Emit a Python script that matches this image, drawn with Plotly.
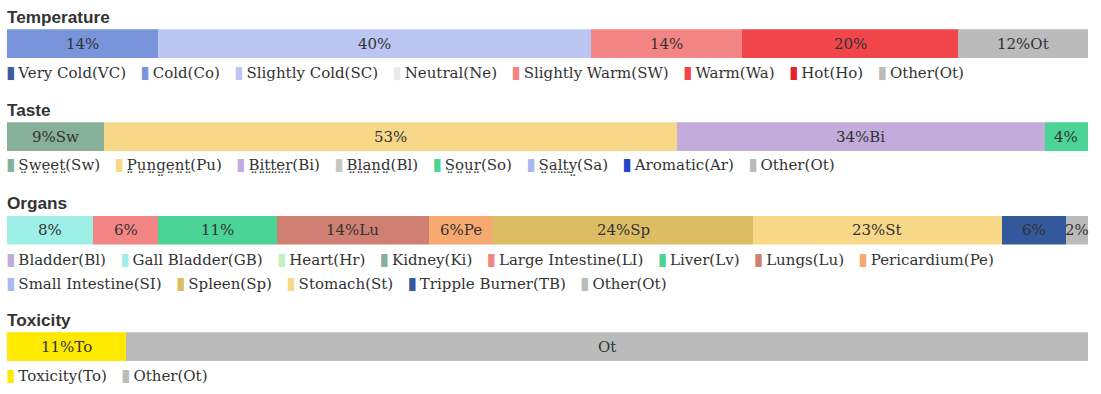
import plotly.graph_objects as go

# ---------------- data ----------------
temp_names = ["Very Cold", "Cold", "Slightly Cold", "Neutral", "Slightly Warm", "Warm", "Hot", "Other"]
temp_abbr = ["VC", "Co", "SC", "Ne", "SW", "Wa", "Ho", "Ot"]
temp_values = [0, 14, 40, 0, 14, 20, 0, 12]
temp_labels = ["", "14%", "40%", "", "14%", "20%", "", "12%Ot"]
temp_colors = ["#3d5aa3", "#7895db", "#bcc6f2", "#ebebeb", "#f38585", "#f0464b", "#e2222c", "#bbbbbb"]

taste_names = ["Sweet", "Pungent", "Bitter", "Bland", "Sour", "Salty", "Aromatic", "Other"]
taste_abbr = ["Sw", "Pu", "Bi", "Bl", "So", "Sa", "Ar", "Ot"]
taste_values = [9, 53, 34, 0, 4, 0, 0, 0]
taste_labels = ["9%Sw", "53%", "34%Bi", "", "4%", "", "", ""]
taste_colors = ["#87b09b", "#f7d888", "#c3acdb", "#c8c8b8", "#4cd396", "#aab8f0", "#2246cc", "#bbbbbb"]
taste_underlined = [True, True, True, True, True, True, False, False]

organ_names = ["Bladder", "Gall Bladder", "Heart", "Kidney", "Large Intestine", "Liver", "Lungs",
               "Pericardium", "Small Intestine", "Spleen", "Stomach", "Tripple Burner", "Other"]
organ_abbr = ["Bl", "GB", "Hr", "Ki", "LI", "Lv", "Lu", "Pe", "SI", "Sp", "St", "TB", "Ot"]
organ_values = [0, 8, 0, 0, 6, 11, 14, 6, 0, 24, 23, 6, 2]
organ_labels = ["", "8%", "", "", "6%", "11%", "14%Lu", "6%Pe", "", "24%Sp", "23%St", "6%", "2%"]
organ_colors = ["#c1abd9", "#9eefe5", "#c6edc2", "#87b09b", "#f38585", "#4cd396", "#d08072",
                "#f7aa70", "#aab8f0", "#dcbd63", "#f7d888", "#33589b", "#bbbbbb"]

tox_names = ["Toxicity", "Other"]
tox_abbr = ["To", "Ot"]
tox_values = [11, 89]
tox_labels = ["11%To", "Ot"]
tox_colors = ["#ffe900", "#bbbbbb"]

sections = [
    ("Temperature", temp_names, temp_abbr, temp_values, temp_labels, temp_colors, None, [8]),
    ("Taste", taste_names, taste_abbr, taste_values, taste_labels, taste_colors, taste_underlined, [8]),
    ("Organs", organ_names, organ_abbr, organ_values, organ_labels, organ_colors, None, [8, 5]),
    ("Toxicity", tox_names, tox_abbr, tox_values, tox_labels, tox_colors, None, [2]),
]

# ---------------- layout constants (pixels from top) ----------------
W, H = 1101, 394
bar_tops = [29.3, 122.3, 215.7, 332.3]
bar_h = 28.8
title_dy = -12.5     # title centre relative to bar top
legend_dy = 14.3     # first legend row centre relative to bar bottom
legend_row = 24.2

SERIF = "DejaVu Serif"
TXT = "#333333"
GAP = "\u00a0" * 3
DOTS = "\u0324"      # combining diaeresis below -> dotted underline look

def py(p):
    return 1 - p / H

def dotted(s):
    return "".join(ch + DOTS for ch in s)

fig = go.Figure()
layout = dict(
    width=W, height=H,
    margin=dict(l=7, r=13, t=0, b=0),
    paper_bgcolor="white", plot_bgcolor="white",
    barmode="stack", bargap=0, showlegend=False,
)
annotations = []

for i, (title, names, abbr, values, labels, colors, underl, rows) in enumerate(sections):
    k = "" if i == 0 else str(i + 1)
    xa, ya = "x" + k, "y" + k
    top = bar_tops[i]
    bottom = top + bar_h
    layout["xaxis" + k] = dict(domain=[0, 1], range=[0, 100], visible=False, fixedrange=True,
                               anchor=ya)
    layout["yaxis" + k] = dict(domain=[py(bottom), py(top)], range=[-0.5, 0.5], visible=False,
                               fixedrange=True, anchor=xa)
    start = 0
    for n, v, lab, c in zip(names, values, labels, colors):
        fig.add_trace(go.Bar(x=[v], y=[0], width=[1], orientation="h", name=n,
                             marker=dict(color=c, line=dict(width=0)),
                             xaxis=xa, yaxis=ya, hoverinfo="name+x"))
        if v > 0 and lab:
            annotations.append(dict(x=start + v / 2, y=0, xref=xa, yref=ya, text=lab,
                                    showarrow=False, xanchor="center", yanchor="middle",
                                    font=dict(family=SERIF, size=15, color=TXT)))
        start += v

    # section title
    annotations.append(dict(x=0, y=py(top + title_dy), xref="paper", yref="paper",
                            text="<b>" + title + "</b>", showarrow=False,
                            xanchor="left", yanchor="middle", xshift=-2,
                            font=dict(family="Liberation Sans", size=17.2, color=TXT)))

    # legend rows
    items = []
    for j, (n, a, c) in enumerate(zip(names, abbr, colors)):
        nm = n
        if underl is not None and underl[j]:
            nm = dotted(n)
        items.append("<span style='color:" + c + ";font-size:17px'>\u25ae</span>\u2009"
                     + nm + "(" + a + ")")
    idx = 0
    for r, cnt in enumerate(rows):
        row_items = items[idx:idx + cnt]
        idx += cnt
        annotations.append(dict(x=0, y=py(bottom + legend_dy + r * legend_row),
                                xref="paper", yref="paper",
                                text=GAP.join(row_items), showarrow=False,
                                xanchor="left", yanchor="middle", xshift=-3,
                                font=dict(family=SERIF, size=15, color=TXT)))

layout["annotations"] = annotations
fig.update_layout(**layout)
fig.write_html("out.html", config={"displayModeBar": False},
               post_script="document.body.style.margin='0px';")
